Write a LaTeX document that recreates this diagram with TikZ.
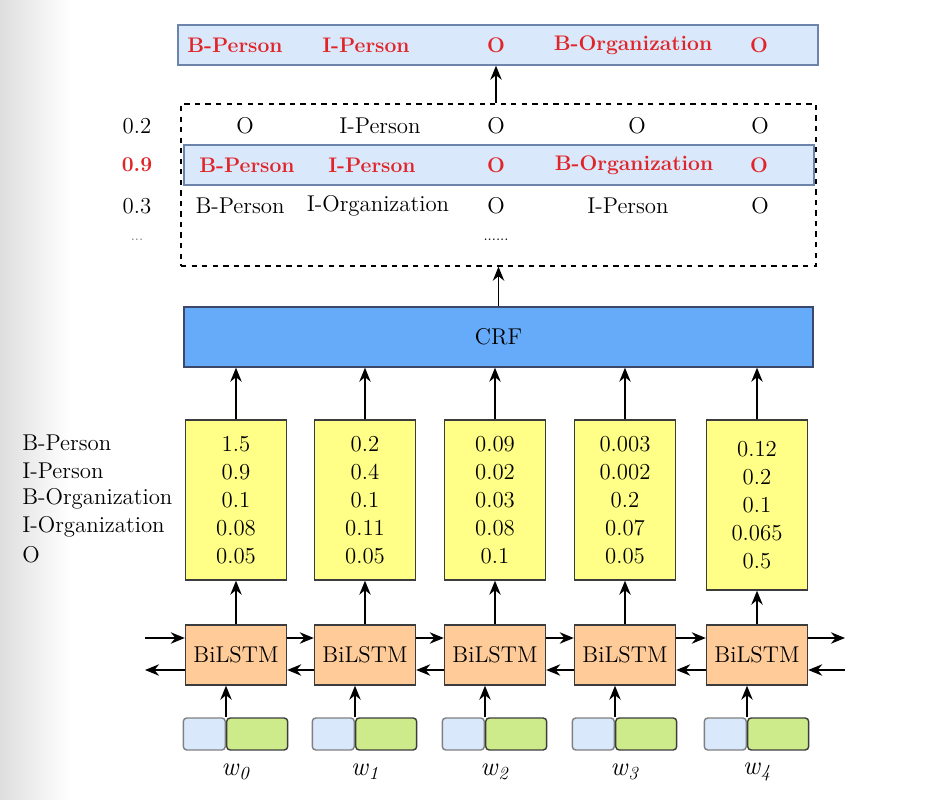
\documentclass[tikz,border=0pt]{standalone}
\usetikzlibrary{arrows.meta, positioning, backgrounds}
\definecolor{tagblue}{RGB}{218,232,252}
\definecolor{tagedge}{RGB}{108,132,170}
\definecolor{crfblue}{RGB}{102,170,250}
\definecolor{crfedge}{RGB}{60,72,105}
\definecolor{scoreyellow}{RGB}{255,255,136}
\definecolor{lstmpeach}{RGB}{255,204,153}
\definecolor{embgreen}{RGB}{205,235,139}
\definecolor{tagred}{RGB}{224,36,40}
\definecolor{boxedge}{RGB}{60,60,60}

\begin{document}
\begin{tikzpicture}[
    x=0.02cm, y=-0.02cm,
    every node/.style = {font=\fontsize{13pt}{15.9pt}\selectfont, inner sep=0pt},
    tagrow/.style = {rectangle, draw=tagedge, fill=tagblue, line width=0.8pt, minimum height=0.8cm},
    crfbox/.style = {rectangle, draw=crfedge, fill=crfblue, line width=0.8pt, minimum width=12.58cm, minimum height=1.2cm},
    scorebox/.style = {rectangle, draw=boxedge, fill=scoreyellow, line width=0.8pt, minimum width=2.02cm, minimum height=3.2cm, align=center},
    lstmbox/.style = {rectangle, draw=boxedge, fill=lstmpeach, line width=0.8pt, minimum width=2.02cm, minimum height=1.2cm},
    embl/.style = {rectangle, rounded corners=2pt, draw=gray, fill=tagblue, line width=0.8pt, minimum width=0.84cm, minimum height=0.64cm},
    embr/.style = {rectangle, rounded corners=2pt, draw=boxedge, fill=embgreen, line width=0.8pt, minimum width=1.22cm, minimum height=0.64cm},
    best/.style = {text=tagred, font=\fontsize{12pt}{15.9pt}\selectfont\bfseries},
    arrow/.style = {line width=0.85pt, -{Stealth[length=8pt, width=6.5pt]}}
]
    \useasboundingbox (0,0) rectangle (934,800);
    \shade[left color=black!13, right color=white] (0,0) rectangle (70,800);

    % Output tags
    \node[tagrow, minimum width=12.8cm] (out) at (498,45) {};
    \foreach \x/\t in {235/B-Person, 366/I-Person, 496/O, 633/B-Organization, 759/O}
        \node[best] at (\x,45) {\t};

    % Candidate paths with their scores
    \node[draw, dashed, line width=0.8pt, minimum width=12.7cm, minimum height=3.24cm] (cand) at (498.5,185) {};
    \node[tagrow, minimum width=12.6cm] (bestrow) at (499,165) {};
    \foreach \x/\t in {245/O, 380/I-Person, 496/O, 637/O, 760/O}
        \node at (\x,126) {\t};
    \foreach \x/\t in {247/B-Person, 372/I-Person, 496/O, 634/B-Organization, 759/O}
        \node[best] at (\x,165) {\t};
    \foreach \x/\t in {240/B-Person, 378/I-Organization, 496/O, 628/I-Person, 760/O}
        \node at (\x,206) {\t};
    \node at (496,240) {\footnotesize ......};
    \node at (137,126) {0.2};
    \node[best] at (137,165) {0.9};
    \node at (137,206) {0.3};
    \node[text=gray] at (137,240) {\footnotesize ...};

    % CRF layer
    \node[crfbox] (crf) at (498.5,337) {CRF};

    % Emission scores
    \node[scorebox] (score0) at (236,500) {1.5\\0.9\\0.1\\0.08\\0.05};
    \node[scorebox] (score1) at (365,500) {0.2\\0.4\\0.1\\0.11\\0.05};
    \node[scorebox] (score2) at (495,500) {0.09\\0.02\\0.03\\0.08\\0.1};
    \node[scorebox] (score3) at (625,500) {0.003\\0.002\\0.2\\0.07\\0.05};
    \node[scorebox, minimum height=3.4cm] (score4) at (757,505) {0.12\\0.2\\0.1\\0.065\\0.5};
    \foreach \y/\t in {443/B-Person, 471/I-Person, 499/B-Organization, 527/I-Organization, 555/O}
        \node[anchor=west] at (22,\y) {\t};

    % BiLSTM and word embeddings
    \foreach \x [count=\i from 0] in {236,365,495,625,757} {
        \node[lstmbox] (lstm\i) at (\x,655) {BiLSTM};
        \node[embl, anchor=east] (emba\i) at (\x-10,734) {};
        \node[embr, anchor=west] (embb\i) at (\x-10,734) {};
        \node at (\x,772) {\fontsize{15pt}{18pt}\selectfont\textit{w}\textsubscript{\textit{\i}}};
        \draw[arrow] (embb\i.north west) -- (embb\i.north west |- lstm\i.south);
        \draw[arrow] (lstm\i.north) -- (lstm\i.north |- score\i.south);
        \draw[arrow] (score\i.north) -- (score\i.north |- crf.south);
    }

    % Recurrent connections
    \foreach \i [count=\j from 1] in {0,1,2,3} {
        \draw[arrow] ([yshift=0.34cm]lstm\i.east) -- ([yshift=0.34cm]lstm\j.west);
        \draw[arrow] ([yshift=-0.3cm]lstm\j.west) -- ([yshift=-0.3cm]lstm\i.east);
    }
    \coordinate (inL) at (145,638);
    \coordinate (outL) at (145,670);
    \coordinate (outR) at (845,638);
    \coordinate (inR) at (845,670);
    \draw[arrow] (inL) -- (inL -| lstm0.west);
    \draw[arrow] (outL -| lstm0.west) -- (outL);
    \draw[arrow] (outR -| lstm4.east) -- (outR);
    \draw[arrow] (inR) -- (inR -| lstm4.east);

    % Up to the decoded tags
    \draw[arrow] (crf.north) -- (crf.north |- cand.south);
    \draw[arrow] (cand.north -| 496,0) -- (out.south -| 496,0);
\end{tikzpicture}
\end{document}
